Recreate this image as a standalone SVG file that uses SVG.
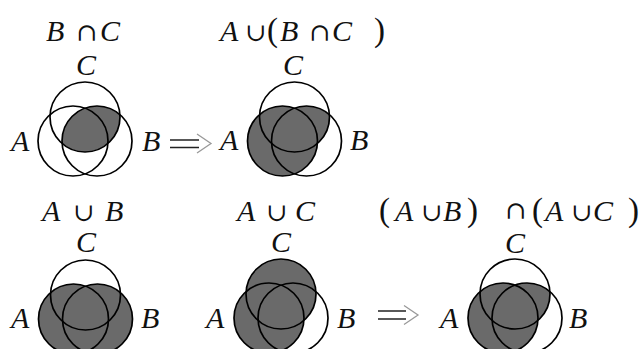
<svg xmlns="http://www.w3.org/2000/svg" width="641" height="349" viewBox="0 0 641 349">
<style>
.t{font-family:"Liberation Serif","DejaVu Serif",serif;font-style:italic;font-size:30px;fill:#111}
.o{font-family:"DejaVu Serif",serif;font-style:normal;font-size:25px;fill:#111}
.p{font-family:"Liberation Serif",serif;font-style:normal;font-size:33px;fill:#111}
.ring{fill:none;stroke:#000;stroke-width:1.7}
.sh{fill:#6a6a6a}
.bar{stroke:#222;stroke-width:1.6;fill:none}
.head{stroke:#999;stroke-width:1.3;fill:none}
</style>
<defs>
<circle id="cA" cx="-12" cy="12" r="35"/>
<circle id="cB" cx="12" cy="12" r="35"/>
<circle id="cC" cx="0" cy="-12" r="35"/>
<clipPath id="clipC"><circle cx="0" cy="-12" r="35"/></clipPath>
<g id="rings" class="ring"><use href="#cA"/><use href="#cB"/><use href="#cC"/></g>
</defs>
<rect width="641" height="349" fill="#fff"/>

<g id="d1">
<text class="t" x="46" y="41">B</text><text class="o" x="76" y="41">∩</text><text class="t" x="100" y="41">C</text>
<g transform="translate(85,129)">
<use href="#cB" class="sh" clip-path="url(#clipC)"/>
<use href="#rings"/>
</g>
<text class="t" x="76" y="75">C</text>
<text class="t" x="11" y="151">A</text>
<text class="t" x="142" y="151">B</text>
</g>

<g id="d2">
<text class="t" x="220" y="41">A</text><text class="o" x="245" y="41">∪</text><text class="p" x="267" y="41">(</text><text class="t" x="280" y="41">B</text><text class="o" x="309" y="41">∩</text><text class="t" x="332" y="41">C</text><text class="p" x="374" y="41">)</text>
<g transform="translate(294.5,129)">
<use href="#cA" class="sh"/>
<use href="#cB" class="sh" clip-path="url(#clipC)"/>
<use href="#rings"/>
</g>
<text class="t" x="283" y="75">C</text>
<text class="t" x="220" y="150">A</text>
<text class="t" x="350" y="150">B</text>
</g>

<g id="d3">
<text class="t" x="42" y="221">A</text><text class="o" x="73" y="221">∪</text><text class="t" x="105" y="221">B</text>
<g transform="translate(85.5,307)">
<use href="#cA" class="sh"/>
<use href="#cB" class="sh"/>
<use href="#rings"/>
</g>
<text class="t" x="76" y="252">C</text>
<text class="t" x="11" y="328">A</text>
<text class="t" x="141" y="328">B</text>
</g>

<g id="d4">
<text class="t" x="237" y="221">A</text><text class="o" x="266" y="221">∪</text><text class="t" x="295" y="221">C</text>
<g transform="translate(281,306)">
<use href="#cA" class="sh"/>
<use href="#cC" class="sh"/>
<use href="#rings"/>
</g>
<text class="t" x="271" y="252">C</text>
<text class="t" x="206" y="328">A</text>
<text class="t" x="337" y="328">B</text>
</g>

<g id="d5">
<text class="p" x="379" y="221">(</text><text class="t" x="395" y="221">A</text><text class="o" x="421" y="221">∪</text><text class="t" x="443" y="221">B</text><text class="p" x="467" y="221">)</text><text class="o" x="505" y="219">∩</text><text class="p" x="532" y="221">(</text><text class="t" x="545" y="221">A</text><text class="o" x="571" y="221">∪</text><text class="t" x="593" y="221">C</text><text class="p" x="628" y="221">)</text>
<g transform="translate(515,306)">
<use href="#cA" class="sh"/>
<use href="#cB" class="sh" clip-path="url(#clipC)"/>
<use href="#rings"/>
</g>
<text class="t" x="505" y="253">C</text>
<text class="t" x="440" y="328">A</text>
<text class="t" x="569" y="328">B</text>
</g>

<g id="connectors">
<path class="bar" d="M170 140H199M170 147.5H199"/>
<path class="head" d="M197 134L211 143.5L197 153"/>
<path class="bar" d="M378 311H406M378 319H406"/>
<path class="head" d="M404 305.5L418 315L404 324.5"/>
</g>
</svg>
